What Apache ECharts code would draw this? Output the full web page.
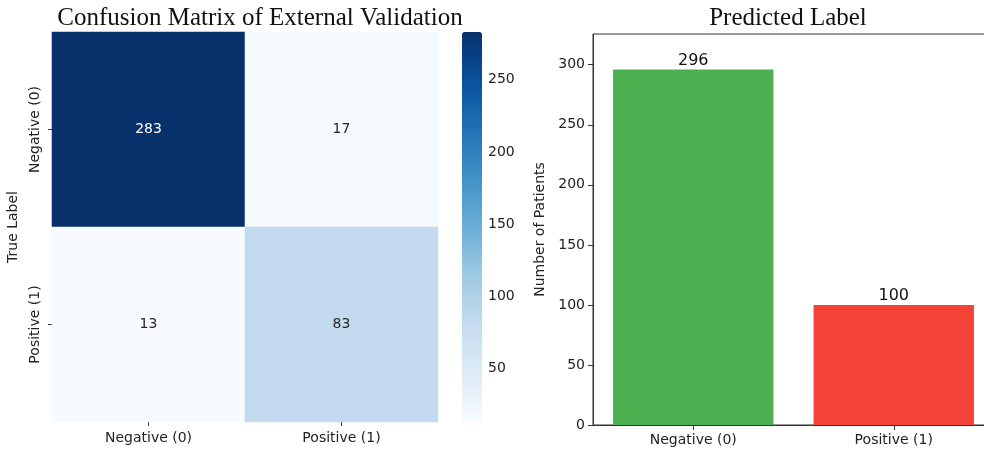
<!DOCTYPE html>
<html>
<head>
<meta charset="utf-8">
<script src="https://cdn.jsdelivr.net/npm/echarts@6/dist/echarts.min.js"></script>
<style>
  html, body { margin: 0; padding: 0; background: #fff; }
  #chart { width: 984px; height: 451px; }
</style>
</head>
<body>
<div id="chart"></div>
<script>
// Class labels shared by both panels
const classLabels = ['Negative (0)', 'Positive (1)'];

// Confusion matrix rows = true label, columns = predicted label
const matrixRowNegative = [283, 17];
const matrixRowPositive = [13, 83];

// Colorbar tick values
const colorbarTicks = [50, 100, 150, 200, 250];

// Predicted label counts
const predictedCounts = [296, 100];
const predictedColors = ['#4caf50', '#f44336'];
const countTicks = [0, 50, 100, 150, 200, 250, 300];

const matrixRows = [matrixRowNegative, matrixRowPositive];
const allCells = matrixRows.flat();
const vMin = Math.min(...allCells);
const vMax = Math.max(...allCells);
const vMid = (vMin + vMax) / 2;

const heatData = [];
matrixRows.forEach((row, r) => {
  row.forEach((v, c) => {
    heatData.push({
      value: [c, r, v],
      label: { color: v > vMid ? '#ffffff' : '#262626' }
    });
  });
});

const blues = ['#f7fbff', '#deebf7', '#c6dbef', '#9ecae1', '#6baed6',
               '#4292c6', '#2171b5', '#08519c', '#08306b'];

const tickFont = { fontFamily: 'DejaVu Sans', fontSize: 14, color: '#222' };
const titleFont = { fontFamily: 'Liberation Serif', fontSize: 25, color: '#111', fontWeight: 'normal' };

const chart = echarts.init(document.getElementById('chart'), null, { renderer: 'canvas' });

chart.setOption({
  animation: false,
  backgroundColor: '#ffffff',
  title: [
    { text: 'Confusion Matrix of External Validation', left: 255, top: 1, textAlign: 'center',
      textStyle: titleFont },
    { text: 'Predicted Label', left: 783, top: 1, textAlign: 'center', textStyle: titleFont }
  ],
  grid: [
    { left: 52, top: 32, width: 386, height: 390, outerBoundsMode: 'none' },
    // the right edge of this panel runs past the canvas
    { left: 593, top: 34, width: 401, height: 391, show: true, borderColor: '#333',
      borderWidth: 1, backgroundColor: 'transparent', outerBoundsMode: 'none' },
    { left: 462, top: 32, width: 20, height: 390, outerBoundsMode: 'none' }
  ],
  xAxis: [
    { type: 'category', gridIndex: 0, data: classLabels, position: 'bottom',
      axisLine: { show: false },
      axisTick: { show: true, alignWithLabel: true, length: 4, lineStyle: { color: '#333' } },
      axisLabel: Object.assign({ margin: 9 }, tickFont),
      splitLine: { show: false } },
    { type: 'category', gridIndex: 1, data: classLabels,
      axisLine: { show: true, lineStyle: { color: '#333', width: 1 } },
      axisTick: { show: true, alignWithLabel: true, length: 5, lineStyle: { color: '#333' } },
      axisLabel: Object.assign({ margin: 8 }, tickFont) },
    { type: 'value', gridIndex: 2, show: false, min: 0, max: 1 }
  ],
  yAxis: [
    { type: 'category', gridIndex: 0, data: classLabels, inverse: true,
      name: 'True Label', nameLocation: 'middle', nameGap: 32, nameRotate: 90,
      nameTextStyle: tickFont,
      axisLine: { show: false },
      axisTick: { show: true, alignWithLabel: true, length: 4, lineStyle: { color: '#333' } },
      axisLabel: Object.assign({ rotate: 90, margin: 10 }, tickFont),
      splitLine: { show: false } },
    { type: 'value', gridIndex: 1, min: 0, max: 325.6,
      name: 'Number of Patients', nameLocation: 'middle', nameGap: 46, nameRotate: 90,
      nameTextStyle: tickFont,
      axisLine: { show: true, lineStyle: { color: '#333', width: 1 } },
      axisTick: { show: true, length: 5, customValues: countTicks, lineStyle: { color: '#333' } },
      axisLabel: Object.assign({ margin: 8, customValues: countTicks }, tickFont),
      splitLine: { show: false } },
    { type: 'value', gridIndex: 2, position: 'right', min: vMin, max: vMax,
      axisLine: { show: false },
      axisTick: { show: true, length: 4, customValues: colorbarTicks, lineStyle: { color: '#333' } },
      axisLabel: Object.assign({ margin: 6, customValues: colorbarTicks }, tickFont),
      splitLine: { show: false } }
  ],
  visualMap: {
    type: 'continuous',
    seriesIndex: 0,
    min: vMin,
    max: vMax,
    calculable: false,
    hoverLink: false,
    realtime: false,
    orient: 'vertical',
    left: 462,
    top: 32,
    itemWidth: 20,
    itemHeight: 390,
    padding: 0,
    text: null,
    showLabel: false,
    inRange: { color: blues }
  },
  series: [
    {
      type: 'heatmap',
      xAxisIndex: 0, yAxisIndex: 0,
      data: heatData,
      label: { show: true, fontFamily: 'DejaVu Sans', fontSize: 14 },
      itemStyle: { borderWidth: 0 },
      emphasis: { disabled: true }
    },
    {
      type: 'bar',
      xAxisIndex: 1, yAxisIndex: 1,
      barWidth: '80%',
      data: predictedCounts.map((v, i) => ({ value: v, itemStyle: { color: predictedColors[i] } })),
      label: { show: true, position: 'top', distance: 1, fontFamily: 'DejaVu Sans', fontSize: 16, color: '#111' }
    }
  ]
});
</script>
</body>
</html>
